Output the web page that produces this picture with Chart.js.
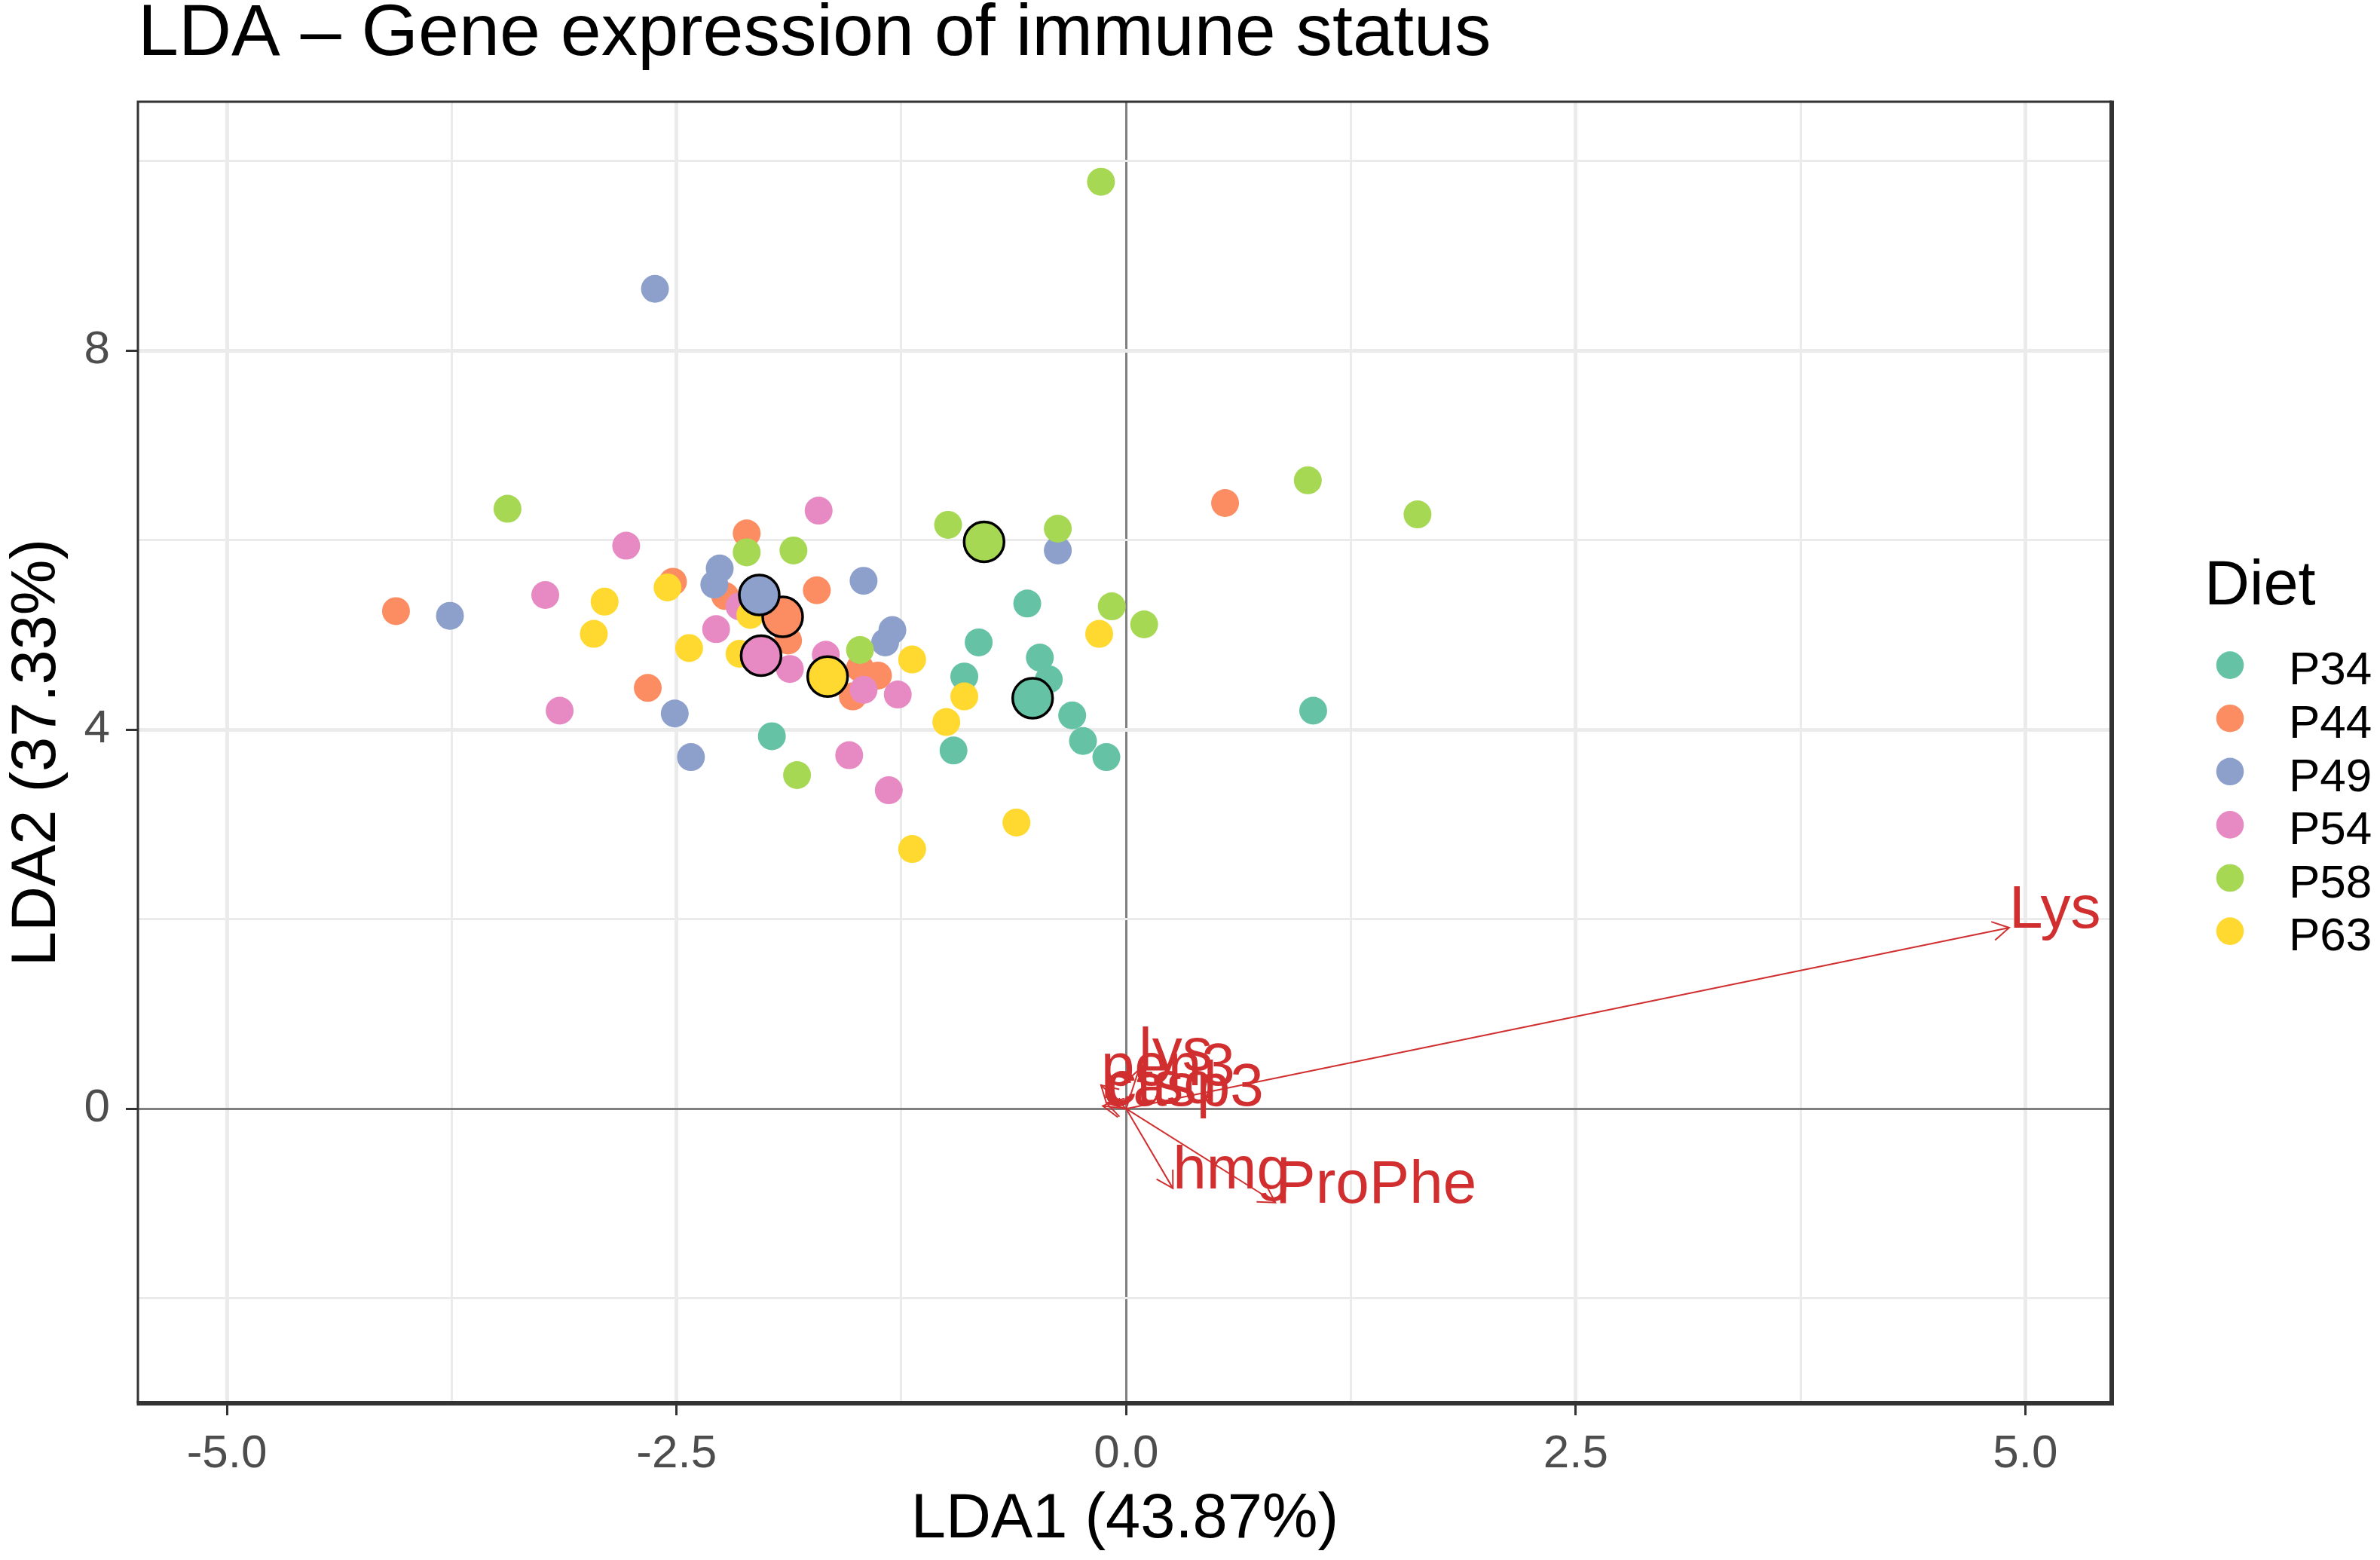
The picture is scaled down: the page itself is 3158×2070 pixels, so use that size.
<!DOCTYPE html>
<html>
<head>
<meta charset="utf-8">
<title>LDA – Gene expression of immune status</title>
<script src="https://cdn.jsdelivr.net/npm/chart.js@4.4.1/dist/chart.umd.min.js"></script>
<style>
  html, body { margin: 0; padding: 0; background: #ffffff; }
  #lda { display: block; }
</style>
</head>
<body>
<canvas id="lda" width="3158" height="2070"></canvas>
<script>
// groups and colours (ColorBrewer Set2)
const diets = ["P34", "P44", "P49", "P54", "P58", "P63"];
const dietColors = ["#66C2A5", "#FC8D62", "#8DA0CB", "#E78AC3", "#A6D854", "#FFD92F"];

// LDA scores per diet
const p34X = [-1.97, -0.82, -0.55, -0.48, -0.43, -0.90, -0.30, -0.24, -0.11, -0.96, 1.04];
const p34Y = [3.93, 4.92, 5.33, 4.76, 4.53, 4.56, 4.15, 3.88, 3.71, 3.78, 4.20];
const p44X = [-2.11, -2.23, -2.52, -4.06, -2.66, -1.72, -1.88, -1.52, -1.48, -1.38, 0.55];
const p44Y = [6.07, 5.41, 5.56, 5.25, 4.44, 5.47, 4.94, 4.35, 4.65, 4.57, 6.39];
const p49X = [-2.26, -2.29, -3.76, -2.51, -2.42, -0.38, -1.46, -1.34, -1.30, -2.62];
const p49Y = [5.70, 5.53, 5.20, 4.17, 3.71, 5.89, 5.57, 4.92, 5.05, 8.65];
const p54X = [-2.78, -3.23, -2.28, -2.15, -3.15, -1.71, -1.87, -1.67, -1.46, -1.27, -1.54, -1.32];
const p54Y = [5.94, 5.42, 5.06, 5.30, 4.20, 6.31, 4.64, 4.79, 4.42, 4.37, 3.73, 3.36];
const p58X = [-3.44, -2.11, -1.85, -0.99, -0.38, -0.08, 0.10, -1.83, -1.48, -0.14, 1.01, 1.62];
const p58Y = [6.33, 5.87, 5.89, 6.16, 6.12, 5.30, 5.11, 3.52, 4.84, 9.78, 6.63, 6.27];
const p63X = [-2.55, -2.90, -2.96, -2.43, -2.15, -2.09, -1.19, -0.15, -0.90, -1.00, -0.61, -1.19];
const p63Y = [5.50, 5.35, 5.01, 4.86, 4.80, 5.21, 4.74, 5.01, 4.35, 4.08, 3.02, 2.74];

// group means (big outlined dots)
const centroidX = [-0.52, -1.91, -2.04, -2.03, -0.79, -1.66];
const centroidY = [4.33, 5.19, 5.42, 4.78, 5.98, 4.56];

// loadings drawn as arrows from the origin
const arrowLabels = ["Lys", "ProPhe", "hmg", "lys", "pen3", "casp3", "ctsd"];
const arrowX = [4.91, 0.83, 0.26, 0.07, -0.14, -0.13, -0.11];
const arrowY = [1.91, -0.99, -0.84, 0.41, 0.25, 0.03, 0.06];

// axes
const xMajorTicks = [-5, -2.5, 0, 2.5, 5];
const yMajorTicks = [0, 4, 8];
const xRange = [-5.495, 5.48];
const yRange = [-3.107, 10.624];

const groupX = [p34X, p44X, p49X, p54X, p58X, p63X];
const groupY = [p34Y, p44Y, p49Y, p54Y, p58Y, p63Y];

const arrowRed = "#D12F2F";
const fontFamily = "'Liberation Sans', Arial, sans-serif";
Chart.defaults.font.family = fontFamily;

const toPoints = (xs, ys) => xs.map((x, i) => ({x: x, y: ys[i]}));

const datasets = [];
// Chart.js draws lower "order" on top
arrowLabels.forEach((lab, i) => {
    datasets.push({
        label: lab,
        data: [{x: 0, y: 0}, {x: arrowX[i], y: arrowY[i]}],
        showLine: true,
        borderColor: arrowRed,
        borderWidth: 2,
        pointRadius: 0,
        order: 0
    });
});
diets.forEach((d, i) => {
    datasets.push({
        label: d + " mean",
        data: [{x: centroidX[i], y: centroidY[i]}],
        pointRadius: 26.5,
        pointBackgroundColor: dietColors[i],
        pointBorderColor: "#000000",
        pointBorderWidth: 3.5,
        order: 6 - i
    });
});
diets.forEach((d, i) => {
    datasets.push({
        label: d,
        data: toPoints(groupX[i], groupY[i]),
        pointRadius: 18.5,
        pointBackgroundColor: dietColors[i],
        pointBorderWidth: 0,
        order: 20 - i
    });
});

const isMajor = (list, v) => list.some(t => Math.abs(t - v) < 1e-9);

function gridFor(majors) {
    return {
        color: ctx => Math.abs(ctx.tick.value) < 1e-9 ? "#7F7F7F" : "#EBEBEB",
        lineWidth: ctx => Math.abs(ctx.tick.value) < 1e-9 ? 3 : (isMajor(majors, ctx.tick.value) ? 5 : 3),
        tickColor: ctx => isMajor(majors, ctx.tick.value) ? "#333333" : "rgba(0,0,0,0)",
        tickWidth: 3,
        tickLength: 16,
        drawTicks: true
    };
}

const biplotExtras = {
    id: "biplotExtras",
    afterDatasetsDraw(chart) {
        const {ctx, scales: {x, y}} = chart;
        const x0 = x.getPixelForValue(0);
        const y0 = y.getPixelForValue(0);
        const headLen = 25;
        ctx.save();
        ctx.strokeStyle = arrowRed;
        ctx.fillStyle = arrowRed;
        ctx.lineWidth = 2;
        ctx.font = "80px " + fontFamily;
        ctx.textAlign = "left";
        ctx.textBaseline = "alphabetic";
        arrowLabels.forEach((lab, i) => {
            const px = x.getPixelForValue(arrowX[i]);
            const py = y.getPixelForValue(arrowY[i]);
            const ang = Math.atan2(py - y0, px - x0);
            ctx.beginPath();
            ctx.moveTo(px - headLen * Math.cos(ang - Math.PI / 6), py - headLen * Math.sin(ang - Math.PI / 6));
            ctx.lineTo(px, py);
            ctx.lineTo(px - headLen * Math.cos(ang + Math.PI / 6), py - headLen * Math.sin(ang + Math.PI / 6));
            ctx.stroke();
            ctx.fillText(lab, px, py);
        });
        ctx.restore();
    },
    afterDraw(chart) {
        const {ctx, chartArea: a} = chart;
        ctx.save();
        // panel border
        ctx.strokeStyle = "#333333";
        ctx.lineWidth = 3;
        ctx.beginPath();
        ctx.moveTo(a.left, a.bottom);
        ctx.lineTo(a.left, a.top);
        ctx.lineTo(a.right, a.top);
        ctx.stroke();
        ctx.lineWidth = 6;
        ctx.beginPath();
        ctx.moveTo(a.right, a.top - 1.5);
        ctx.lineTo(a.right, a.bottom);
        ctx.lineTo(a.left - 1.5, a.bottom);
        ctx.stroke();

        // legend
        const lx = a.right + 157;
        ctx.fillStyle = "#000000";
        ctx.textAlign = "left";
        ctx.textBaseline = "alphabetic";
        ctx.font = "83px " + fontFamily;
        ctx.fillText("Diet", a.right + 123, 802);
        ctx.font = "62px " + fontFamily;
        diets.forEach((d, i) => {
            const cy = 882.6 + 70.6 * i;
            ctx.beginPath();
            ctx.arc(lx, cy, 18.3, 0, Math.PI * 2);
            ctx.fillStyle = dietColors[i];
            ctx.fill();
            ctx.fillStyle = "#000000";
            ctx.fillText(d, a.right + 235, cy + 25.8);
        });
        ctx.restore();
    }
};

new Chart(document.getElementById("lda").getContext("2d"), {
    type: "scatter",
    data: {datasets: datasets},
    options: {
        responsive: false,
        maintainAspectRatio: false,
        devicePixelRatio: 1,
        animation: false,
        events: [],
        layout: {padding: {left: 0, top: 0, right: 356, bottom: 0}},
        plugins: {
            legend: {display: false},
            tooltip: {enabled: false},
            title: {
                display: true,
                text: "LDA – Gene expression of immune status",
                align: "start",
                fullSize: false,
                color: "#000000",
                font: {size: 97, weight: "normal", lineHeight: 0.9},
                padding: {top: 3, bottom: 44.7}
            }
        },
        scales: {
            x: {
                type: "linear",
                min: xRange[0],
                max: xRange[1],
                afterFit: s => { s.height = 208; },
                border: {display: false},
                grid: gridFor(xMajorTicks),
                ticks: {
                    stepSize: 1.25,
                    includeBounds: false,
                    autoSkip: false,
                    maxRotation: 0,
                    padding: 15,
                    color: "#4D4D4D",
                    font: {size: 62},
                    callback: v => isMajor(xMajorTicks, v) ? v.toFixed(1) : ""
                },
                title: {
                    display: true,
                    text: "LDA1 (43.87%)",
                    color: "#000000",
                    font: {size: 83},
                    padding: {top: 0, bottom: 3}
                }
            },
            y: {
                type: "linear",
                min: yRange[0],
                max: yRange[1],
                afterFit: s => { s.width = 183; },
                border: {display: false},
                grid: gridFor(yMajorTicks),
                ticks: {
                    stepSize: 2,
                    includeBounds: false,
                    autoSkip: false,
                    padding: 21,
                    color: "#4D4D4D",
                    font: {size: 62},
                    callback: v => isMajor(yMajorTicks, v) ? String(v) : ""
                },
                title: {
                    display: true,
                    text: "LDA2 (37.33%)",
                    color: "#000000",
                    font: {size: 83},
                    padding: {top: 0, bottom: 0}
                }
            }
        }
    },
    plugins: [biplotExtras]
});
</script>
</body>
</html>
